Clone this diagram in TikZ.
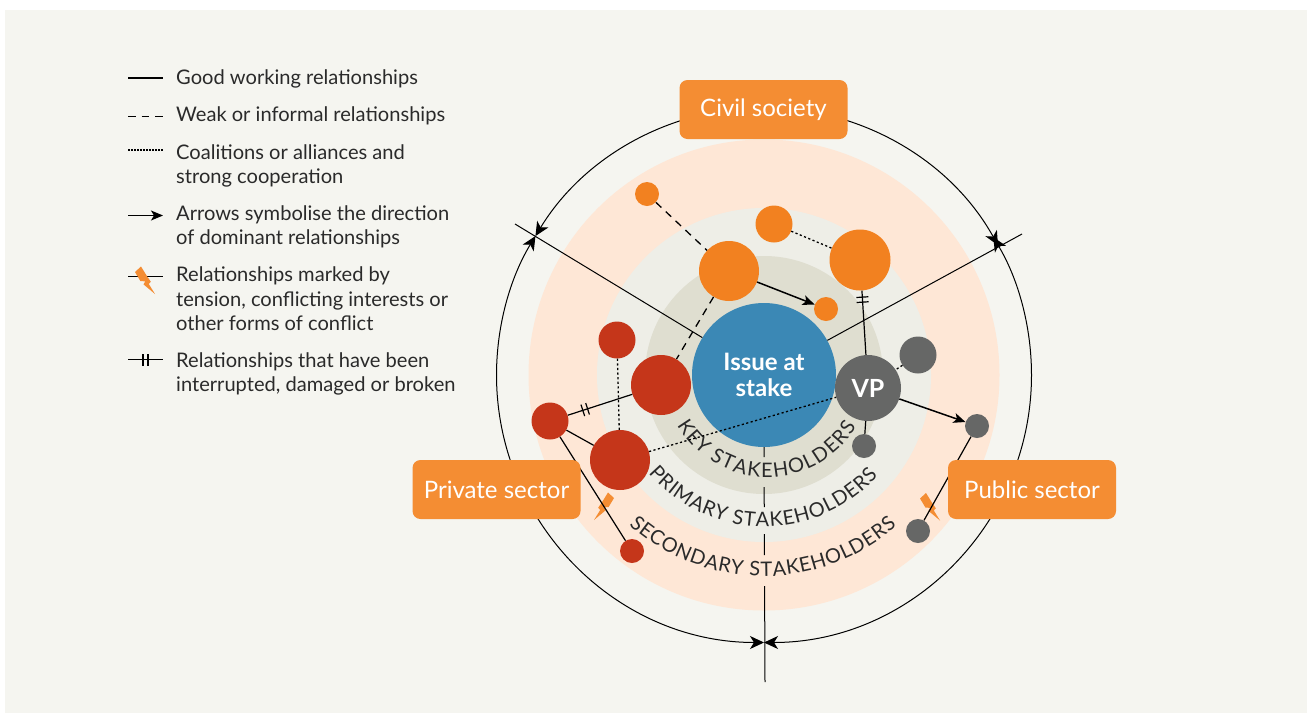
\documentclass[tikz,border=0pt]{standalone}
\usepackage{fontspec}
\setmainfont{Lato}
\usetikzlibrary{arrows.meta,decorations.text,decorations.markings}
\definecolor{pagebg}{HTML}{F5F5F0}
\definecolor{ringsec}{HTML}{FEE7D6}
\definecolor{ringpri}{HTML}{EEEEE7}
\definecolor{ringkey}{HTML}{DFDED0}
\definecolor{issueblue}{HTML}{3B88B5}
\definecolor{orgfill}{HTML}{F28120}
\definecolor{boxfill}{HTML}{F48D33}
\definecolor{redfill}{HTML}{C5361A}
\definecolor{greyfill}{HTML}{666766}
\definecolor{inktext}{HTML}{2A2A2A}
\tikzset{
  stake/.style={circle, draw=none, inner sep=0pt, minimum size=#1},
  orgnode/.style={stake=#1, fill=orgfill},
  rednode/.style={stake=#1, fill=redfill},
  greynode/.style={stake=#1, fill=greyfill},
  sector/.style={rectangle, rounded corners=8pt, fill=boxfill, text=white, minimum width=168pt, minimum height=59pt, inner sep=0pt, font=\fontsize{24}{26}\selectfont},
  legtext/.style={anchor=west, inner sep=0pt, align=left, text=inktext, font=\fontsize{20.1}{24.4}\selectfont},
  good/.style={line width=1.2pt},
  weak/.style={line width=1.3pt, dash pattern=on 7.5pt off 6pt},
  coal/.style={line width=1.3pt, dash pattern=on 2.2pt off 2.4pt},
  dir/.style={line width=1.5pt, -{Stealth[length=12pt,width=10pt,inset=3pt]}},
  thin line/.style={line width=1pt},
  ringtip/.style={-{Stealth[length=14pt,width=13pt,inset=4pt]}},
  bothtip/.style={{Stealth[length=14pt,width=13pt,inset=4pt]}-{Stealth[length=14pt,width=13pt,inset=4pt]}},
  brk/.style={postaction={decorate, decoration={markings, mark=at position #1 with {\draw[line width=1.2pt] (-2.5pt,-6pt) -- (-2.5pt,6pt) (2.5pt,-6pt) -- (2.5pt,6pt);}}}},
  ringlabel/.style={decorate, decoration={text along path, text={|\fontsize{20}{20}\selectfont\color{inktext}|#1}, text align={fit to path}}},
}
% lightning bolt, drawn from its own small frame
\newcommand{\boltshape}[2]{\fill[boxfill, shift={(#1)}, #2] (-10,-9) -- (-4,-14.5) -- (2.2,-4.5) -- (5.8,0.7) -- (3.8,3) -- (10,13) -- (-1.5,3.4) -- (0.3,0.4) -- (-4.6,0) -- cycle;}
\begin{document}
\begin{tikzpicture}[x=1pt,y=-1pt]
    \useasboundingbox (0,0) rectangle (1307,713);
    \fill[pagebg] (5,10) rectangle (1307,713);

    % rings
    \coordinate (mid) at (764,375);
    \fill[ringsec] (mid) circle (235.5);
    \fill[ringpri] (mid) circle (167);
    \fill[ringkey] (mid) circle (119);

    % main nodes
    \node[stake=144pt, fill=issueblue, text=white, align=center, font=\fontsize{24}{26.5}\selectfont\bfseries] (issue) at (mid) {Issue at\\stake};

    % free ends of the spokes
    \coordinate (spokeL) at (515,224);
    \coordinate (spokeR) at (1022,234);
    \coordinate (spokeB) at (765,682);
    \coordinate (tipB) at (764,642.5);
    \coordinate (topend) at (764,107.5);

    \draw[thin line] (issue) -- (spokeL);
    \draw[thin line] (issue) -- (spokeR);
    \draw[thin line, dash pattern=on 10pt off 30pt on 20pt off 27pt on 21pt off 31pt on 96pt] (issue.south) -- (spokeB);

    % outer ring, four pieces
    \draw[thin line, ringtip] (topend) arc[start angle=-90, end angle=-148.7, radius=267.5];
    \draw[thin line, ringtip] (topend) arc[start angle=-90, end angle=-29, radius=267.5];
    \draw[thin line, bothtip] (tipB) arc[start angle=90, end angle=211.3, radius=267.5];
    \draw[thin line, bothtip] (tipB) arc[start angle=90, end angle=-31, radius=267.5];

    % ring labels
    \path[ringlabel={KEY STAKEHOLDERS}] (677,425) arc[start angle=150, end angle=31, radius=104];
    \path[ringlabel={PRIMARY STAKEHOLDERS}] (648.5,473) arc[start angle=139.6, end angle=41.5, radius=152];
    \path[ringlabel={SECONDARY STAKEHOLDERS}] (629,525) arc[start angle=131.7, end angle=48.7, radius=202];

    % stakeholders
    \node[orgnode=24pt] (o1) at (647,194) {};
    \node[orgnode=37pt] (o2) at (774,224) {};
    \node[orgnode=60pt] (o3) at (729,271) {};
    \node[orgnode=61pt] (o4) at (860,260) {};
    \node[orgnode=24pt] (o5) at (826,309) {};
    \node[rednode=37pt] (r1) at (617,340) {};
    \node[rednode=60pt] (r2) at (661,385) {};
    \node[rednode=37pt] (r3) at (550,421) {};
    \node[rednode=60pt] (r4) at (620,460) {};
    \node[rednode=24pt] (r5) at (632,551) {};
    \node[greynode=66pt, text=white, font=\fontsize{25}{25}\selectfont\bfseries] (vp) at (868,388) {VP};
    \node[greynode=37pt] (g1) at (918,355) {};
    \node[greynode=24pt] (g2) at (864,446) {};
    \node[greynode=24pt] (g3) at (977,426) {};
    \node[greynode=24pt] (g4) at (918,531) {};

    % relationships
    \boltshape{604,507}{xscale=-1}
    \boltshape{930,507.5}{}
    \draw[weak] (o1) -- (o3);
    \draw[weak] (o3) -- (r2);
    \draw[coal] (o2) -- (o4);
    \draw[dir] (o3) -- (o5);
    \draw[good, brk=0.14] (o4) -- (vp);
    \draw[coal] (g1) -- (vp);
    \draw[good] (vp) -- (g2);
    \draw[dir] (vp) -- (g3);
    \draw[good] (g3) -- (g4);
    \draw[coal] (r1) -- (r4);
    \draw[coal] (r4) -- (vp);
    \draw[good, brk=0.27] (r3) -- (r2);
    \draw[good] (r3) -- (r4);
    \draw[good] (r3) -- (r5);

    % sector boxes
    \node[sector] (civil) at (763.5,109.5) {Civil society};
    \node[sector] (private) at (496.5,489.5) {Private sector};
    \node[sector] (public) at (1032,489.5) {Public sector};

    % legend
    \node[legtext] (lgood) at (176,79) {Good working relationships};
    \node[legtext] (lweak) at (176,116) {Weak or informal relationships};
    \node[legtext] (lcoal) at (176,166) {Coalitions or alliances and\\strong cooperation};
    \node[legtext] (ldir) at (176,227) {Arrows symbolise the direction\\of dominant relationships};
    \node[legtext] (lbolt) at (176,299) {Relationships marked by\\tension, conflicting interests or\\other forms of conflict};
    \node[legtext] (lbrk) at (176,374) {Relationships that have been\\interrupted, damaged or broken};

    \coordinate (a1) at (128,78);
    \coordinate (b1) at (163,78);
    \coordinate (a2) at (128,116.5);
    \coordinate (b2) at (163,116.5);
    \coordinate (a3) at (128,150);
    \coordinate (b3) at (163,150);
    \coordinate (a4) at (128,215.5);
    \coordinate (b4) at (163,215.5);
    \coordinate (a5) at (128,276.5);
    \coordinate (b5) at (163,276.5);
    \coordinate (a6) at (128,359.5);
    \coordinate (b6) at (163,359.5);
    \draw[good] (a1) -- (b1);
    \draw[weak] (a2) -- (b2);
    \draw[coal, line width=1.1pt, dash pattern=on 1.5pt off 1.5pt] (a3) -- (b3);
    \draw[dir, line width=1.3pt] (a4) -- (b4);
    \draw[good] (a5) -- (b5);
    \boltshape{145,281}{}
    \draw[good, brk=0.5] (a6) -- (b6);
\end{tikzpicture}
\end{document}
